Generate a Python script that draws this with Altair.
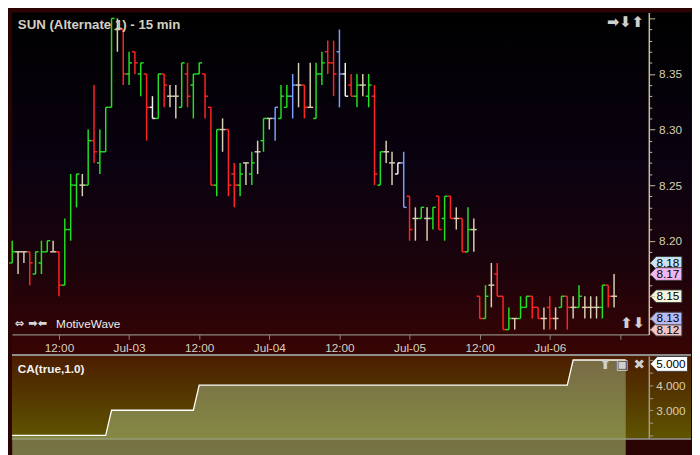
import altair as alt
import pandas as pd

# ---------------- data ----------------
opens = [8.18, 8.19, 8.19, 8.19, 8.17, 8.18, 8.19, 8.19, 8.19, 8.16,
         8.21, 8.25, 8.25, 8.25, 8.29, 8.27, 8.28, 8.32, 8.39, 8.39,
         8.35, 8.37, 8.35, 8.35, 8.32, 8.31, 8.35, 8.33, 8.33, 8.32,
         8.35, 8.34, 8.35, 8.35, 8.32, 8.25, 8.30, 8.30, 8.26, 8.25,
         8.27, 8.26, 8.28, 8.29, 8.31, 8.31, 8.31, 8.32, 8.33, 8.34,
         8.34, 8.32, 8.31, 8.35, 8.37, 8.36, 8.37, 8.35, 8.34, 8.33,
         8.34, 8.33, 8.33, 8.25, 8.28, 8.27, 8.26, 8.27, 8.24, 8.22,
         8.22, 8.22, 8.22, 8.24, 8.22, 8.24, 8.22, 8.22, 8.19, 8.21,
         8.15, 8.13, 8.16, 8.17, 8.15, 8.12, 8.13, 8.13, 8.14, 8.15,
         8.14, 8.13, 8.14, 8.13, 8.14, 8.15, 8.14, 8.14, 8.14, 8.14,
         8.14, 8.14, 8.16, 8.15]
highs = [8.20, 8.19, 8.19, 8.19, 8.19, 8.20, 8.20, 8.20, 8.19, 8.22,
         8.26, 8.26, 8.26, 8.30, 8.34, 8.30, 8.32, 8.40, 8.40, 8.39,
         8.37, 8.37, 8.36, 8.35, 8.33, 8.35, 8.35, 8.34, 8.34, 8.36,
         8.36, 8.35, 8.36, 8.35, 8.32, 8.30, 8.31, 8.30, 8.27, 8.27,
         8.27, 8.28, 8.29, 8.31, 8.31, 8.32, 8.34, 8.34, 8.35, 8.36,
         8.34, 8.36, 8.36, 8.37, 8.38, 8.38, 8.39, 8.36, 8.35, 8.35,
         8.35, 8.35, 8.34, 8.28, 8.29, 8.28, 8.27, 8.28, 8.24, 8.23,
         8.23, 8.23, 8.23, 8.24, 8.24, 8.24, 8.23, 8.22, 8.23, 8.22,
         8.15, 8.16, 8.18, 8.18, 8.15, 8.14, 8.13, 8.15, 8.15, 8.15,
         8.14, 8.14, 8.15, 8.14, 8.15, 8.15, 8.15, 8.16, 8.15, 8.15,
         8.15, 8.16, 8.16, 8.17]
lows = [8.18, 8.17, 8.18, 8.16, 8.17, 8.17, 8.19, 8.19, 8.15, 8.16,
        8.20, 8.23, 8.24, 8.25, 8.27, 8.26, 8.28, 8.32, 8.37, 8.34,
        8.34, 8.35, 8.33, 8.29, 8.31, 8.31, 8.32, 8.32, 8.31, 8.32,
        8.32, 8.31, 8.35, 8.31, 8.25, 8.24, 8.28, 8.24, 8.23, 8.24,
        8.25, 8.25, 8.26, 8.28, 8.30, 8.29, 8.31, 8.32, 8.31, 8.32,
        8.31, 8.32, 8.31, 8.34, 8.35, 8.33, 8.32, 8.33, 8.33, 8.32,
        8.33, 8.32, 8.25, 8.25, 8.27, 8.25, 8.26, 8.23, 8.20, 8.20,
        8.22, 8.20, 8.21, 8.21, 8.20, 8.22, 8.21, 8.19, 8.19, 8.19,
        8.13, 8.13, 8.14, 8.15, 8.12, 8.12, 8.12, 8.13, 8.14, 8.13,
        8.13, 8.12, 8.12, 8.12, 8.14, 8.12, 8.13, 8.14, 8.13, 8.13,
        8.13, 8.13, 8.14, 8.14]
closes = [8.19, 8.19, 8.19, 8.18, 8.19, 8.19, 8.20, 8.19, 8.16, 8.21,
          8.25, 8.26, 8.25, 8.29, 8.28, 8.28, 8.32, 8.40, 8.39, 8.35,
          8.36, 8.36, 8.36, 8.32, 8.31, 8.35, 8.34, 8.33, 8.33, 8.36,
          8.33, 8.35, 8.36, 8.33, 8.25, 8.30, 8.30, 8.25, 8.25, 8.26,
          8.27, 8.27, 8.28, 8.31, 8.31, 8.32, 8.33, 8.33, 8.34, 8.34,
          8.32, 8.32, 8.35, 8.36, 8.36, 8.35, 8.35, 8.33, 8.33, 8.34,
          8.34, 8.34, 8.26, 8.28, 8.28, 8.27, 8.27, 8.23, 8.21, 8.22,
          8.23, 8.22, 8.23, 8.21, 8.24, 8.22, 8.22, 8.19, 8.21, 8.21,
          8.13, 8.15, 8.16, 8.15, 8.12, 8.13, 8.13, 8.14, 8.15, 8.14,
          8.13, 8.13, 8.13, 8.13, 8.15, 8.14, 8.14, 8.15, 8.14, 8.14,
          8.14, 8.16, 8.15, 8.15]
blue_bars = [45, 48, 56, 67]
white_bars = [24, 57, 66]

ca_values = [2, 2, 2, 2, 2, 2, 2, 2, 2, 2, 2, 2, 2, 2, 2, 2, 2,
             3, 3, 3, 3, 3, 3, 3, 3, 3, 3, 3, 3, 3, 3, 3,
             4, 4, 4, 4, 4, 4, 4, 4, 4, 4, 4, 4, 4, 4, 4, 4, 4, 4, 4, 4,
             4, 4, 4, 4, 4, 4, 4, 4, 4, 4, 4, 4, 4, 4, 4, 4, 4, 4, 4, 4,
             4, 4, 4, 4, 4, 4, 4, 4, 4, 4, 4, 4, 4, 4, 4, 4, 4, 4, 4, 4,
             4, 4, 4, 4,
             5, 5, 5, 5, 5, 5, 5, 5, 5, 5]

tick_index = [8, 20, 32, 44, 56, 68, 80, 92, 104]
tick_labels = ["12:00", "Jul-03", "12:00", "Jul-04", "12:00", "Jul-05", "12:00", "Jul-06", ""]

flag_prices = [8.18, 8.17, 8.15, 8.12, 8.13]
flag_keys = ["a", "b", "c", "d", "e"]

chart_title = "SUN (Alternate 1) - 15 min"
study_title = "CA(true,1.0)"

# ---------------- layout / style ----------------
W, H1, H2 = 649, 328, 84
RIGHT = 43
FONT = "Liberation Sans"

def bar_class(i):
    if i in blue_bars:
        return "blue"
    if i in white_bars:
        return "white"
    if closes[i] > opens[i]:
        return "up"
    if closes[i] < opens[i]:
        return "down"
    return "flat"

n = len(opens)
bars = pd.DataFrame({
    "i": list(range(n)), "open": opens, "high": highs, "low": lows,
    "close": closes, "cls": [bar_class(i) for i in range(n)],
})
ca_df = pd.DataFrame({"i": list(range(len(ca_values))), "ca": ca_values})
flags_df = pd.DataFrame({"price": flag_prices, "key": flag_keys})
one = pd.DataFrame({"k": [1]})

xs = alt.Scale(domain=[-0.05, 108.95], nice=False, zero=False)
ys = alt.Scale(domain=[8.1157, 8.4053], nice=False, zero=False)
ys2 = alt.Scale(domain=[1.88, 5.16], nice=False, zero=False)

color_enc = alt.Color("cls:N", legend=None, scale=alt.Scale(
    domain=["up", "down", "flat", "blue", "white"],
    range=["#22e022", "#ff2424", "#d8d0b2", "#79a0ff", "#f2f2f2"]))

xlabel_expr = ("[" + ",".join("'%s'" % s for s in tick_labels) + "][indexof(["
               + ",".join(str(v) for v in tick_index) + "], datum.value)]")
xaxis = alt.Axis(values=tick_index, labelExpr=xlabel_expr, title=None, grid=False,
                 domainColor="#8c877d", domainWidth=1.5, tickColor="#8c877d", tickSize=5,
                 labelColor="#d8d2bc", labelFont=FONT, labelFontSize=12, labelPadding=3,
                 labelFlush=False, labelOverlap=False, zindex=1)

price_ticks = [round(8.12 + 0.01 * k, 2) for k in range(29)]
flag_list = "[" + ",".join("%.2f" % p for p in flag_prices) + "]"
ylabel_expr = ("(round(datum.value*100) % 5 == 0 && datum.value < 8.395 && indexof(" + flag_list +
               ", round(datum.value*100)/100) < 0) ? format(datum.value, '.2f') : ''")
yaxis = alt.Axis(orient="right", values=price_ticks, labelExpr=ylabel_expr, title=None,
                 grid=False, domainColor="#c8c0a0", domainWidth=1.5, tickColor="#c8c0a0",
                 tickSize={"condition": {"test": "round(datum.value*100) % 5 == 0", "value": 6},
                           "value": 3},
                 labelColor="#d6cfb0", labelFont=FONT, labelFontSize=12, labelPadding=4,
                 labelOverlap=False, zindex=1)

y2axis = alt.Axis(orient="right", values=[2, 2.5, 3, 3.5, 4, 4.5, 5],
                  labelExpr="(datum.value == 3 || datum.value == 4) ? format(datum.value, '.3f') : ''",
                  title=None, grid=False, domainColor="#a09a88", domainWidth=1.5,
                  tickColor="#a09a88", tickSize=4, labelColor="#d6cfb0", labelFont=FONT,
                  labelFontSize=12, labelPadding=3, labelOverlap=False, zindex=1)

grad_main = alt.Gradient(gradient="linear", x1=0, x2=0, y1=0, y2=1, stops=[
    alt.GradientStop(color="#000000", offset=0),
    alt.GradientStop(color="#0a0210", offset=0.45),
    alt.GradientStop(color="#1c030b", offset=0.75),
    alt.GradientStop(color="#380404", offset=1)])
grad_low = alt.Gradient(gradient="linear", x1=0, x2=0, y1=0, y2=1, stops=[
    alt.GradientStop(color="#4b1d00", offset=0),
    alt.GradientStop(color="#5f5400", offset=1)])
grad_area = alt.Gradient(gradient="linear", x1=0, x2=0, y1=0, y2=1, stops=[
    alt.GradientStop(color="#8a8b63", offset=0),
    alt.GradientStop(color="#9dad60", offset=1)])

flag_path = "M -1 0 L -0.62 -0.4 L 1 -0.4 L 1 0.4 L -0.62 0.4 Z"

# ---------------- main panel ----------------
bg = alt.Chart(one).mark_rect(fill=grad_main).encode(
    x=alt.value(0), x2=alt.value(W + RIGHT), y=alt.value(0), y2=alt.value(H1 + 20))

base = alt.Chart(bars)
hl = base.mark_rule(strokeWidth=1.5).encode(
    x=alt.X("i:Q", scale=xs, axis=xaxis),
    y=alt.Y("low:Q", scale=ys, axis=yaxis), y2="high:Q", color=color_enc)
op = base.transform_calculate(xl="datum.i - 0.5").mark_rule(strokeWidth=1.5).encode(
    x=alt.X("xl:Q", scale=xs, axis=xaxis), x2="i:Q",
    y=alt.Y("open:Q", scale=ys, axis=yaxis), color=color_enc)
cl = base.transform_calculate(xr="datum.i + 0.5").mark_rule(strokeWidth=1.5).encode(
    x=alt.X("i:Q", scale=xs, axis=xaxis), x2="xr:Q",
    y=alt.Y("close:Q", scale=ys, axis=yaxis), color=color_enc)

flags = alt.Chart(flags_df).mark_point(
    shape=flag_path, filled=True, size=1050, stroke="#3c3c3c", strokeWidth=1, opacity=1
).encode(
    x=alt.value(W + 17.5), y=alt.Y("price:Q", scale=ys, axis=yaxis),
    fill=alt.Fill("key:N", legend=None, scale=alt.Scale(
        domain=flag_keys, range=["#c9e3f3", "#f0b6ef", "#f5f3dc", "#f3c3c3", "#b9b9f5"])))
flag_txt = alt.Chart(flags_df).mark_text(
    font=FONT, fontSize=12, color="#000000", align="center", baseline="middle", dx=1
).encode(x=alt.value(W + 18.5), y=alt.Y("price:Q", scale=ys, axis=yaxis),
         text=alt.Text("price:Q", format=".2f"))

t_title = alt.Chart(one).mark_text(
    text=chart_title, font=FONT, fontSize=13.5, fontWeight="bold", color="#d4d1c2",
    align="left", baseline="middle").encode(x=alt.value(6), y=alt.value(13))
t_icons_tr = alt.Chart(one).mark_text(
    text="➡⬇⬆", font="DejaVu Sans", fontSize=15, fontWeight="bold", color="#cfcfcf",
    align="right", baseline="middle").encode(x=alt.value(W - 5), y=alt.value(10))
t_mw_icons = alt.Chart(one).mark_text(
    text="⇔ ➡⬅", font="DejaVu Sans", fontSize=11.5, fontWeight="bold", color="#d6d6d6",
    align="left", baseline="middle").encode(x=alt.value(3), y=alt.value(H1 - 11))
t_mw = alt.Chart(one).mark_text(
    text="MotiveWave", font=FONT, fontSize=12, color="#ececec",
    align="left", baseline="middle").encode(x=alt.value(45), y=alt.value(H1 - 11))
t_icons_br = alt.Chart(one).mark_text(
    text="⬆⬇", font="DejaVu Sans", fontSize=15, fontWeight="bold", color="#cfcfcf",
    align="right", baseline="middle").encode(x=alt.value(W - 4), y=alt.value(H1 - 11))

main = alt.layer(bg, hl, op, cl, flags, flag_txt, t_title, t_icons_tr,
                 t_mw_icons, t_mw, t_icons_br).properties(width=W, height=H1)

# ---------------- lower panel ----------------
bbg = alt.Chart(one).mark_rect(fill=grad_low).encode(
    x=alt.value(0), x2=alt.value(W + RIGHT), y=alt.value(0), y2=alt.value(H2))
sep = alt.Chart(one).mark_rule(color="#8e8e8e", strokeWidth=2).encode(
    x=alt.value(0), x2=alt.value(W + RIGHT), y=alt.value(-1))
bot = alt.Chart(one).mark_rule(color="#9a9a9a", strokeWidth=1.5).encode(
    x=alt.value(0), x2=alt.value(W + RIGHT), y=alt.value(H2 + 0.5))
area = alt.Chart(ca_df).mark_area(
    fill=grad_area, interpolate="linear", line={"color": "#ffffff", "strokeWidth": 1.3}
).encode(x=alt.X("i:Q", scale=xs, axis=None),
         y=alt.Y("ca:Q", scale=ys2, axis=y2axis), y2=alt.value(H2))

last_ca = pd.DataFrame({"v": [ca_values[-1]]})
ca_flag = alt.Chart(last_ca).mark_point(
    shape=flag_path, filled=True, size=1444, fill="#ffffff", stroke="#3c3c3c",
    strokeWidth=1, opacity=1, yOffset=4
).encode(x=alt.value(W + 20.5), y=alt.Y("v:Q", scale=ys2, axis=y2axis))
ca_flag_txt = alt.Chart(last_ca).mark_text(
    font=FONT, fontSize=12, color="#000000", align="center", baseline="middle",
    dy=4, dx=1.5).encode(x=alt.value(W + 21), y=alt.Y("v:Q", scale=ys2, axis=y2axis),
                         text=alt.Text("v:Q", format=".3f"))

t_ca = alt.Chart(one).mark_text(
    text=study_title, font=FONT, fontSize=12, fontWeight="bold", color="#f2f2f2",
    align="left", baseline="middle").encode(x=alt.value(6), y=alt.value(13))
t_icons_ca = alt.Chart(one).mark_text(
    text="⬆ ▣ ✖", font="DejaVu Sans", fontSize=14, fontWeight="bold", color="#d0d0d0",
    align="right", baseline="middle").encode(x=alt.value(W - 4), y=alt.value(9))

lower = alt.layer(bbg, sep, bot, area, ca_flag, ca_flag_txt, t_ca, t_icons_ca
                  ).properties(width=W, height=H2)

chart = alt.vconcat(main, lower, spacing=0).properties(
    padding=0, background="#2a0303"
).configure_view(stroke=None).configure_concat(spacing=0)

chart.save("out.html", embed_options={"renderer": "svg", "actions": False})
